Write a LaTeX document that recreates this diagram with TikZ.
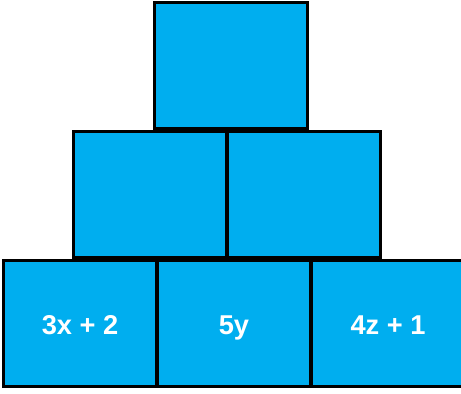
\documentclass[tikz,border=0pt]{standalone}
\usepackage{fontspec}
\setmainfont{Liberation Sans}
\usepackage{xcolor}
\usepackage{tikz}
\usetikzlibrary{positioning}
\definecolor{pblue}{RGB}{0,174,239}

\begin{document}
\begin{tikzpicture}[
  x=0.02cm,y=-0.02cm,
  font=\fontsize{15.5}{18}\selectfont\bfseries,
  brick/.style={draw=black,fill=pblue,line width=0.06cm,text=white,
                minimum width=3.08cm,minimum height=2.54cm,inner sep=0pt,
                text height=13pt,text depth=0pt},
  ]
  \useasboundingbox (0,0) rectangle (461,394);
  \clip (0,0) rectangle (461,394);
  \node[brick] (apex)  at (231, 65.5) {};
  \node[brick] (midl)  at (150,194.5) {};
  \node[brick] (midr)  at (304,194.5) {};
  \node[brick] (basel) at ( 80,323.5) {3x + 2};
  \node[brick] (basem) at (234,323.5) {5y};
  \node[brick] (baser) at (388,323.5) {4z + 1};
\end{tikzpicture}
\end{document}
